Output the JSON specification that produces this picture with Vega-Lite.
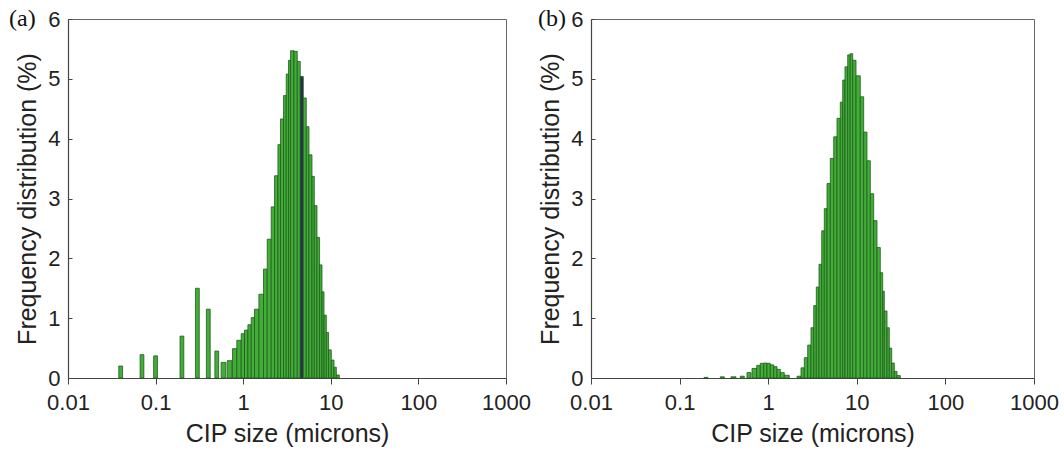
{
  "$schema": "https://vega.github.io/schema/vega-lite/v6.json",
  "padding": {"left": 8, "top": 6, "right": 5, "bottom": 5},
  "background": "white",
  "spacing": 6,
  "datasets": {
    "a": [
      {"x0": 0.038, "x1": 0.042, "f": 0.20},
      {"x0": 0.0665, "x1": 0.0735, "f": 0.39},
      {"x0": 0.095, "x1": 0.105, "f": 0.37},
      {"x0": 0.19, "x1": 0.21, "f": 0.70},
      {"x0": 0.285, "x1": 0.315, "f": 1.50},
      {"x0": 0.38, "x1": 0.42, "f": 1.15},
      {"x0": 0.475, "x1": 0.525, "f": 0.45},
      {"x0": 0.56, "x1": 0.634, "f": 0.26},
      {"x0": 0.657, "x1": 0.743, "f": 0.29},
      {"x0": 0.755, "x1": 0.846, "f": 0.49},
      {"x0": 0.846, "x1": 0.949, "f": 0.63},
      {"x0": 0.949, "x1": 1.035, "f": 0.74},
      {"x0": 1.035, "x1": 1.132, "f": 0.80},
      {"x0": 1.132, "x1": 1.234, "f": 0.89},
      {"x0": 1.234, "x1": 1.346, "f": 1.01},
      {"x0": 1.346, "x1": 1.511, "f": 1.15},
      {"x0": 1.511, "x1": 1.706, "f": 1.40},
      {"x0": 1.706, "x1": 1.881, "f": 1.82},
      {"x0": 1.881, "x1": 2.089, "f": 2.32},
      {"x0": 2.089, "x1": 2.279, "f": 2.86},
      {"x0": 2.279, "x1": 2.493, "f": 3.38},
      {"x0": 2.493, "x1": 2.669, "f": 3.90},
      {"x0": 2.669, "x1": 2.888, "f": 4.33},
      {"x0": 2.888, "x1": 3.100, "f": 4.72},
      {"x0": 3.100, "x1": 3.294, "f": 5.08},
      {"x0": 3.294, "x1": 3.472, "f": 5.31},
      {"x0": 3.472, "x1": 3.797, "f": 5.47},
      {"x0": 3.797, "x1": 4.141, "f": 5.46},
      {"x0": 4.141, "x1": 4.481, "f": 5.29},
      {"x0": 4.481, "x1": 4.850, "f": 5.04},
      {"x0": 4.850, "x1": 5.248, "f": 4.68},
      {"x0": 5.248, "x1": 5.636, "f": 4.20},
      {"x0": 5.636, "x1": 6.098, "f": 3.73},
      {"x0": 6.098, "x1": 6.478, "f": 3.37},
      {"x0": 6.478, "x1": 6.956, "f": 2.88},
      {"x0": 6.956, "x1": 7.447, "f": 2.35},
      {"x0": 7.447, "x1": 7.933, "f": 1.89},
      {"x0": 7.933, "x1": 8.362, "f": 1.44},
      {"x0": 8.362, "x1": 8.884, "f": 1.05},
      {"x0": 8.884, "x1": 9.438, "f": 0.76},
      {"x0": 9.438, "x1": 10.13, "f": 0.47},
      {"x0": 10.13, "x1": 10.88, "f": 0.30},
      {"x0": 10.88, "x1": 11.56, "f": 0.18},
      {"x0": 11.56, "x1": 12.51, "f": 0.05}
    ],
    "b": [
      {"x0": 0.1886, "x1": 0.2092, "f": 0.01},
      {"x0": 0.288, "x1": 0.3195, "f": 0.02},
      {"x0": 0.380, "x1": 0.433, "f": 0.02},
      {"x0": 0.484, "x1": 0.537, "f": 0.03},
      {"x0": 0.576, "x1": 0.639, "f": 0.09},
      {"x0": 0.657, "x1": 0.742, "f": 0.16},
      {"x0": 0.742, "x1": 0.814, "f": 0.21},
      {"x0": 0.814, "x1": 0.890, "f": 0.245},
      {"x0": 0.890, "x1": 0.969, "f": 0.25},
      {"x0": 0.969, "x1": 1.056, "f": 0.245},
      {"x0": 1.056, "x1": 1.154, "f": 0.22},
      {"x0": 1.154, "x1": 1.257, "f": 0.19},
      {"x0": 1.257, "x1": 1.370, "f": 0.145},
      {"x0": 1.370, "x1": 1.519, "f": 0.09},
      {"x0": 1.519, "x1": 1.730, "f": 0.045},
      {"x0": 2.114, "x1": 2.346, "f": 0.03},
      {"x0": 2.346, "x1": 2.556, "f": 0.17},
      {"x0": 2.556, "x1": 2.791, "f": 0.34},
      {"x0": 2.791, "x1": 3.041, "f": 0.55},
      {"x0": 3.041, "x1": 3.263, "f": 0.84},
      {"x0": 3.263, "x1": 3.491, "f": 1.21},
      {"x0": 3.491, "x1": 3.745, "f": 1.52},
      {"x0": 3.745, "x1": 4.017, "f": 1.90},
      {"x0": 4.017, "x1": 4.298, "f": 2.46},
      {"x0": 4.298, "x1": 4.610, "f": 2.83},
      {"x0": 4.610, "x1": 5.022, "f": 3.25},
      {"x0": 5.022, "x1": 5.487, "f": 3.67},
      {"x0": 5.487, "x1": 5.978, "f": 4.03},
      {"x0": 5.978, "x1": 6.514, "f": 4.34},
      {"x0": 6.514, "x1": 6.934, "f": 4.61},
      {"x0": 6.934, "x1": 7.358, "f": 4.98},
      {"x0": 7.358, "x1": 7.895, "f": 5.20},
      {"x0": 7.895, "x1": 8.424, "f": 5.40},
      {"x0": 8.424, "x1": 8.990, "f": 5.42},
      {"x0": 8.990, "x1": 9.795, "f": 5.31},
      {"x0": 9.795, "x1": 10.95, "f": 5.05},
      {"x0": 10.95, "x1": 11.96, "f": 4.70},
      {"x0": 11.96, "x1": 13.03, "f": 4.11},
      {"x0": 13.03, "x1": 14.21, "f": 3.63},
      {"x0": 14.21, "x1": 15.51, "f": 3.08},
      {"x0": 15.51, "x1": 16.90, "f": 2.63},
      {"x0": 16.90, "x1": 18.42, "f": 2.18},
      {"x0": 18.42, "x1": 19.60, "f": 1.76},
      {"x0": 19.60, "x1": 20.44, "f": 1.45},
      {"x0": 20.44, "x1": 21.93, "f": 1.12},
      {"x0": 21.93, "x1": 23.27, "f": 0.84},
      {"x0": 23.27, "x1": 24.77, "f": 0.50},
      {"x0": 24.77, "x1": 26.50, "f": 0.25},
      {"x0": 26.50, "x1": 28.43, "f": 0.11},
      {"x0": 28.43, "x1": 30.97, "f": 0.04}
    ]
  },
  "hconcat": [
    {
      "width": 438,
      "height": 359,
      "title": {"text": "(a)", "anchor": "start", "frame": "group", "orient": "top", "baseline": "alphabetic", "offset": 0, "dx": -59, "dy": 42, "font": "Liberation Serif", "fontSize": 24, "fontWeight": "normal", "color": "#111"},
      "data": {"name": "a"},
      "mark": {"type": "bar", "stroke": "#1f5a1d", "strokeWidth": 0.8},
      "encoding": {
        "x": {"field": "x0", "type": "quantitative", "scale": {"type": "log", "domain": [0.01, 1000], "nice": false},
          "axis": {"title": "CIP size (microns)", "values": [0.01, 0.1, 1, 10, 100, 1000], "format": "~g", "labelFlush": false, "labelOverlap": false, "tickSize": 6, "labelPadding": 8, "titlePadding": 8}},
        "x2": {"field": "x1"},
        "y": {"field": "f", "type": "quantitative", "scale": {"domain": [0, 6], "nice": false, "zero": true},
          "axis": {"title": "Frequency distribution (%)", "values": [0, 0.5, 1, 1.5, 2, 2.5, 3, 3.5, 4, 4.5, 5, 5.5, 6], "labelExpr": "datum.value % 1 === 0 ? datum.label : ''", "format": "d", "tickSize": -4, "labelPadding": 12, "titlePadding": 7}},
        "y2": {"datum": 0},
        "fill": {"condition": {"test": "datum.x0 === 4.481", "value": "#2b2a55"}, "value": "#42ae38"}
      }
    },
    {
      "width": 443,
      "height": 359,
      "title": {"text": "(b)", "anchor": "start", "frame": "group", "orient": "top", "baseline": "alphabetic", "offset": 0, "dx": -53, "dy": 42, "font": "Liberation Serif", "fontSize": 24, "fontWeight": "normal", "color": "#111"},
      "data": {"name": "b"},
      "mark": {"type": "bar", "stroke": "#1f5a1d", "strokeWidth": 0.8, "fill": "#42ae38"},
      "encoding": {
        "x": {"field": "x0", "type": "quantitative", "scale": {"type": "log", "domain": [0.01, 1000], "nice": false},
          "axis": {"title": "CIP size (microns)", "values": [0.01, 0.1, 1, 10, 100, 1000], "format": "~g", "labelFlush": false, "labelOverlap": false, "tickSize": 6, "labelPadding": 8, "titlePadding": 8}},
        "x2": {"field": "x1"},
        "y": {"field": "f", "type": "quantitative", "scale": {"domain": [0, 6], "nice": false, "zero": true},
          "axis": {"title": "Frequency distribution (%)", "values": [0, 0.5, 1, 1.5, 2, 2.5, 3, 3.5, 4, 4.5, 5, 5.5, 6], "labelExpr": "datum.value % 1 === 0 ? datum.label : ''", "format": "d", "tickSize": -4, "labelPadding": 12, "titlePadding": 7}},
        "y2": {"datum": 0}
      }
    }
  ],
  "config": {
    "view": {"stroke": "#666", "strokeWidth": 1},
    "axis": {
      "grid": false,
      "labelFont": "Liberation Sans",
      "titleFont": "Liberation Sans",
      "labelFontSize": 22,
      "titleFontSize": 25,
      "titleFontWeight": "normal",
      "labelColor": "#222",
      "titleColor": "#222",
      "domainColor": "#444",
      "tickColor": "#444",
      "domainWidth": 1.2,
      "tickWidth": 1
    }
  }
}
